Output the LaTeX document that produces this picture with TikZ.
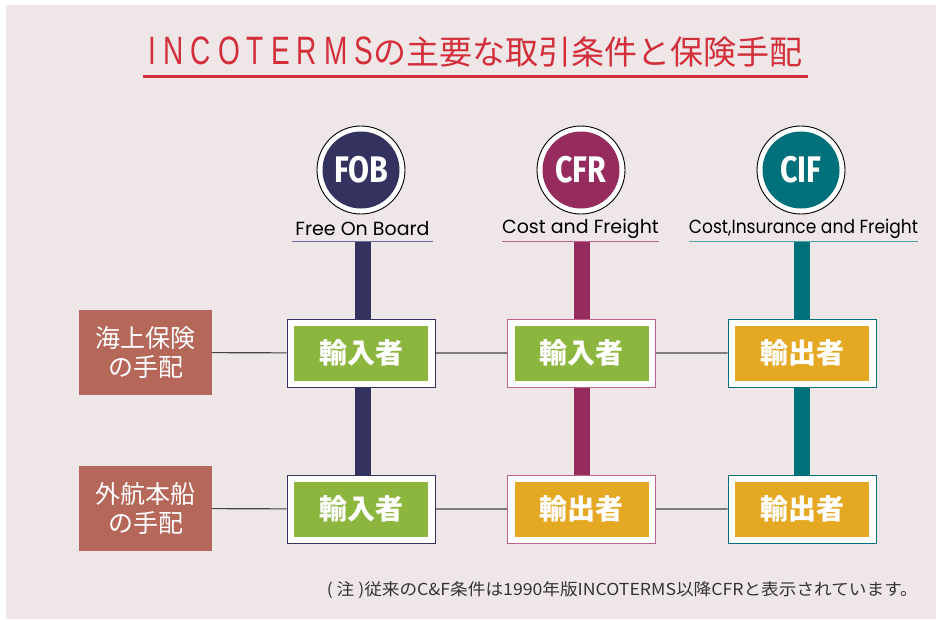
\documentclass[tikz,border=0pt]{standalone}
\usepackage{fontspec}
\setmainfont{Noto Sans CJK JP}
\newfontfamily\latinT{Liberation Sans}
\newfontfamily\futura{Poppins}
\newfontfamily\condb{Fira Sans}
\definecolor{bgc}{HTML}{EFE6E7}
\definecolor{titlec}{HTML}{D22F3B}
\definecolor{fobc}{HTML}{34325F}
\definecolor{fobu}{HTML}{6E6C9E}
\definecolor{cfrc}{HTML}{962B5E}
\definecolor{cfru}{HTML}{C0608E}
\definecolor{cifc}{HTML}{00707A}
\definecolor{cifu}{HTML}{4FA3AB}
\definecolor{greenc}{HTML}{8DB63F}
\definecolor{orangec}{HTML}{E5A823}
\definecolor{sidec}{HTML}{B5675A}
\definecolor{linec}{HTML}{444444}
\definecolor{footc}{HTML}{333333}
\pgfdeclarelayer{bg}
\pgfdeclarelayer{back}
\pgfsetlayers{bg,back,main}
\tikzset{
  ringnode/.style={circle, fill=white, draw=black, line width=0.9pt, minimum size=88pt, inner sep=0pt},
  badge/.style={circle, fill=#1, minimum size=77pt, inner sep=0pt, text=white,
    font=\condb\bfseries\fontsize{37}{37}\selectfont},
  termlabel/.style={minimum width=#1, minimum height=24pt, inner sep=0pt, text=black,
    font=\futura\fontsize{19}{19}\selectfont},
  termline/.style={draw=#1, line width=1.3pt},
  colbar/.style={draw=#1, line width=16pt},
  outerbox/.style={rectangle, fill=white, draw=#1, line width=1pt, minimum width=148pt,
    minimum height=68pt, inner sep=0pt},
  innerbox/.style={rectangle, fill=#1, minimum width=134pt, minimum height=55pt, inner sep=0pt,
    text=white, font=\bfseries\fontsize{28}{28}\selectfont},
  sidebox/.style={rectangle, fill=sidec, minimum width=133pt, minimum height=85pt, inner sep=0pt,
    text=white, align=center, font=\fontsize{25}{29}\selectfont},
  conn/.style={draw=linec, line width=1.1pt},
  titlenode/.style={minimum width=665pt, minimum height=48pt, inner sep=0pt, text=titlec,
    font=\fontsize{33}{33}\selectfont},
  titleline/.style={draw=titlec, line width=3pt},
  footnode/.style={inner sep=0pt, text=footc, font=\fontsize{16.5}{17}\selectfont}
}
\begin{document}
\begin{tikzpicture}[x=1pt,y=-1pt]
\useasboundingbox (0,0) rectangle (936,619);
\begin{pgfonlayer}{bg}
  \fill[white] (0,0) rectangle (936,619);
  \fill[bgc] (6,5) rectangle (936,619);
\end{pgfonlayer}

% title
\node[titlenode] (title) at (475.5,52) {\scalebox{0.85}[1.2]{\latinT\addfontfeature{LetterSpace=25}INCOTERMS}の主要な取引条件と保険手配};
\draw[titleline] (title.south west) -- (title.south east);

% badges
\node[ringnode] (fobr) at (361,170) {};
\node[badge=fobc] (fob) at (fobr) {\scalebox{0.82}[1]{FOB}};
\node[ringnode] (cfrr) at (581,170) {};
\node[badge=cfrc] (cfr) at (cfrr) {\scalebox{0.82}[1]{CFR}};
\node[ringnode] (cifr) at (801,170) {};
\node[badge=cifc] (cif) at (cifr) {\scalebox{0.82}[1]{CIF}};

% term labels
\node[termlabel=141pt] (fobl) at (362.5,229) {Free On Board};
\node[termlabel=153pt] (cfrl) at (580.5,229) {Cost and Freight};
\node[termlabel=221pt] (cifl) at (803.5,229) {\scalebox{0.9}[1]{Cost,Insurance and Freight}};
\draw[termline=fobu] (fobl.south west) -- (fobl.south east);
\draw[termline=cfru] (cfrl.south west) -- (cfrl.south east);
\draw[termline=cifu] (cifl.south west) -- (cifl.south east);

% side labels
\node[sidebox] (s1) at (145.5,352.5) {海上保険\\の手配};
\node[sidebox] (s2) at (145.5,508.5) {外航本船\\の手配};

% boxes row 1
\node[outerbox=fobc] (b11) at (361,353) {};
\node[innerbox=greenc] (i11) at (b11) {輸入者};
\node[outerbox=cfru] (b12) at (581.5,353) {};
\node[innerbox=greenc] (i12) at (b12) {輸入者};
\node[outerbox=cifc] (b13) at (802,353) {};
\node[innerbox=orangec] (i13) at (b13) {輸出者};
% boxes row 2
\node[outerbox=fobc] (b21) at (361,509) {};
\node[innerbox=greenc] (i21) at (b21) {輸入者};
\node[outerbox=cfru] (b22) at (581.5,509) {};
\node[innerbox=orangec] (i22) at (b22) {輸出者};
\node[outerbox=cifc] (b23) at (802,509) {};
\node[innerbox=orangec] (i23) at (b23) {輸出者};

\begin{pgfonlayer}{back}
  \draw[colbar=fobc] (fobl.south) -- (fobl.south |- b21.north);
  \draw[colbar=cfrc] (cfrl.south -| b12) -- (b22.north);
  \draw[colbar=cifc] (cifl.south -| b13) -- (b23.north);
  \draw[conn] (s1) -- (b11) -- (b12) -- (b13);
  \draw[conn] (s2) -- (b21) -- (b22) -- (b23);
\end{pgfonlayer}

% footnote
\node[footnode, anchor=east] (foot) at (918,590) {\scalebox{1.07}[1]{( 注 )従来のC\&F条件は1990年版INCOTERMS以降CFRと表示されています。}};
\end{tikzpicture}
\end{document}
